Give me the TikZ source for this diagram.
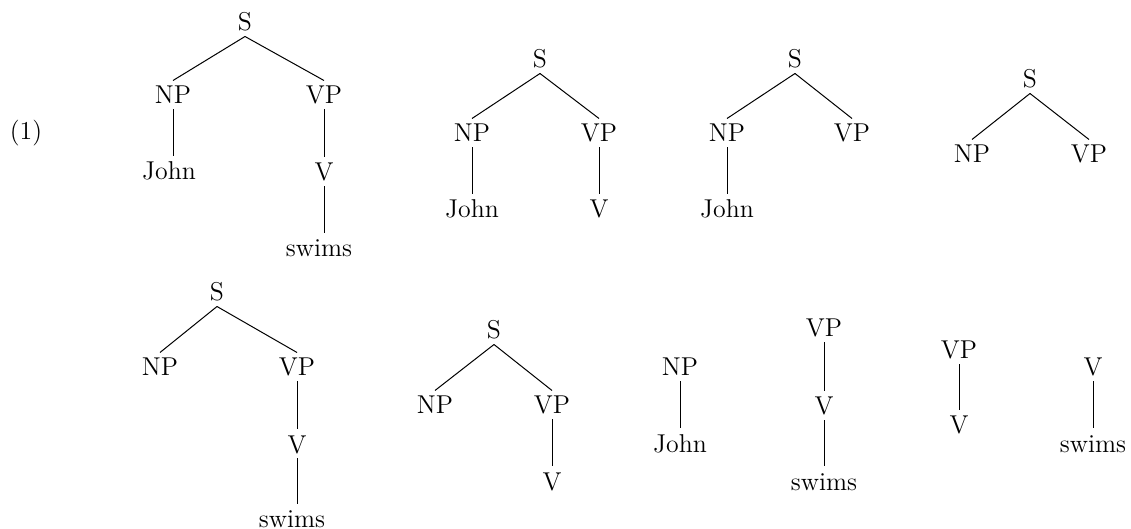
\documentclass[tikz,border=0pt]{standalone}
\usetikzlibrary{calc}

\begin{document}
\begin{tikzpicture}[x=0.5pt,y=-0.5pt,line width=0.5pt,
    every node/.style={anchor=base,inner sep=2.5pt,text height=9pt,text depth=0pt,
      font=\fontsize{12.9}{15}\selectfont}]
      \useasboundingbox (0,0) rectangle (1131,529);

      \node (ex) at (26,140) {(1)};

      \node (s1) at (245,31) {S};
      \node (np1) at (173,104) {NP};
      \node (vp1) at (324,104) {VP};
      \node (john1) at (169,180) {John};
      \node (v1) at (324,181) {V};
      \node (swims1) at (319,257) {swims};
      \draw (s1.south) -- (np1.north);
      \draw (s1.south) -- (vp1.north);
      \draw (np1.south) -- (np1.south |- john1.north);
      \draw (vp1.south) -- (v1.north);
      \draw (v1.south) -- (v1.south |- swims1.north);

      \node (s2) at (540,68) {S};
      \node (np2) at (472,142) {NP};
      \node (vp2) at (599,142) {VP};
      \node (john2) at (472,218) {John};
      \node (v2) at (599,218) {V};
      \draw (s2.south) -- (np2.north);
      \draw (s2.south) -- (vp2.north);
      \draw (np2.south) -- (john2.north);
      \draw (vp2.south) -- (v2.north);

      \node (s3) at (795,68) {S};
      \node (np3) at (727,142) {NP};
      \node (vp3) at (852,142) {VP};
      \node (john3) at (727,218) {John};
      \draw (s3.south) -- (np3.north);
      \draw (s3.south) -- (vp3.north);
      \draw (np3.south) -- (john3.north);

      \node (s4) at (1030,88) {S};
      \node (np4) at (972,163) {NP};
      \node (vp4) at (1089,163) {VP};
      \draw (s4.south) -- (np4.north);
      \draw (s4.south) -- (vp4.north);

      \node (s5) at (217,301) {S};
      \node (np5) at (160,376) {NP};
      \node (vp5) at (297,376) {VP};
      \node (v5) at (297,453) {V};
      \node (swims5) at (292,527) {swims};
      \draw (s5.south) -- (np5.north);
      \draw (s5.south) -- (vp5.north);
      \draw (vp5.south) -- (v5.north);
      \draw (v5.south) -- (v5.south |- swims5.north);

      \node (s6) at (494,339) {S};
      \node (np6) at (435,414) {NP};
      \node (vp6) at (552,414) {VP};
      \node (v6) at (552,490) {V};
      \draw (s6.south) -- (np6.north);
      \draw (s6.south) -- (vp6.north);
      \draw (vp6.south) -- (v6.north);

      \node (np7) at (680,376) {NP};
      \node (john7) at (680,452) {John};
      \draw (np7.south) -- (john7.north);

      \node (vp8) at (824,337) {VP};
      \node (v8) at (824,415) {V};
      \node (swims8) at (824,490) {swims};
      \draw (vp8.south) -- (v8.north);
      \draw (v8.south) -- (swims8.north);

      \node (vp9) at (959,359) {VP};
      \node (v9) at (959,434) {V};
      \draw (vp9.south) -- (v9.north);

      \node (v10) at (1093,376) {V};
      \node (swims10) at (1093,452) {swims};
      \draw (v10.south) -- (swims10.north);
\end{tikzpicture}
\end{document}
